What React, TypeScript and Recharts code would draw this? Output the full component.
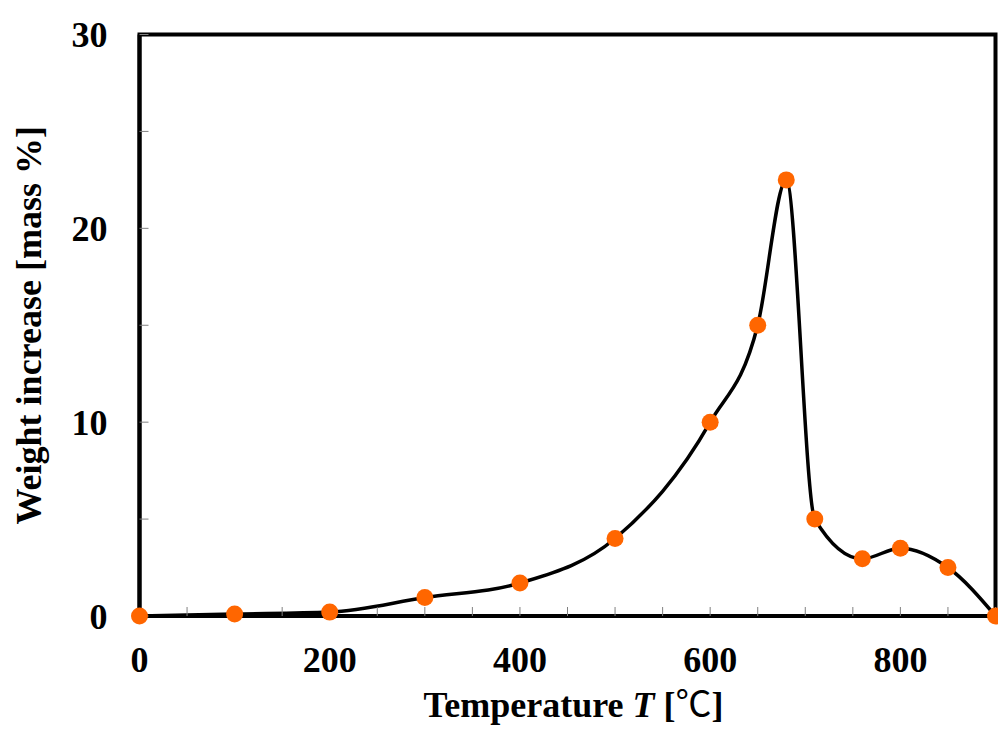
import React from 'react'
import { ComposedChart, Line, XAxis, YAxis, ReferenceArea } from 'recharts'

// temperature [°C] and weight increase [mass %]
const temperatures = [0, 100, 200, 300, 400, 500, 600, 650, 680, 710, 760, 800, 850, 900]
const weightIncrease = [0, 0.1, 0.2, 0.95, 1.7, 4.0, 10.0, 15.0, 22.5, 5.0, 2.95, 3.5, 2.5, 0]

const xTicks = [0, 50, 100, 150, 200, 250, 300, 350, 400, 450, 500, 550, 600, 650, 700, 750, 800, 850, 900]
const xLabels = [0, 200, 400, 600, 800]
const yTicks = [0, 5, 10, 15, 20, 25, 30]
const yLabels = [0, 10, 20, 30]

const data = temperatures.map((t, i) => ({ t, w: weightIncrease[i] }))

const font = 'Liberation Serif, Times New Roman, serif'
const tickStyle = { fontSize: 36, fontWeight: 700, fill: '#000', fontFamily: font }
const tickLine = { stroke: '#808080', strokeWidth: 1 }
const frame = { stroke: '#000', strokeWidth: 4 }

function XTitle(props: any) {
  const { x, y, width } = props.viewBox
  return (
    <text
      x={x + width / 2 + 6}
      y={y + 101}
      textAnchor="middle"
      fontFamily={font}
      fontSize={36}
      fontWeight={700}
      fill="#000"
    >
      Temperature <tspan fontStyle="italic">T</tspan> [<tspan fontWeight={400} fontFamily="Noto Sans CJK JP, DejaVu Sans, sans-serif">℃</tspan>]
    </text>
  )
}

function YTitle(props: any) {
  const { y, height } = props.viewBox
  const cx = 29
  const cy = y + height / 2
  return (
    <text
      x={cx}
      y={cy}
      transform={`rotate(-90, ${cx}, ${cy})`}
      textAnchor="middle"
      dominantBaseline="central"
      fontFamily={font}
      fontSize={36}
      fontWeight={700}
      fill="#000"
    >
      Weight increase [mass %]
    </text>
  )
}

export default function App() {
  return (
    <div style={{ position: 'absolute', left: 0, top: 0, background: '#fff' }}>
      <ComposedChart width={998} height={729} data={data} margin={{ top: 34.5, right: 2.5, bottom: 0, left: 0 }}>
        <XAxis
          dataKey="t"
          type="number"
          domain={[0, 900]}
          ticks={xTicks}
          interval={0}
          tickFormatter={(v: number) => (xLabels.includes(v) ? String(v) : '')}
          tick={tickStyle}
          tickLine={tickLine}
          tickSize={-9}
          tickMargin={39}
          axisLine={frame}
          height={113}
          label={{ content: XTitle }}
        />
        <YAxis
          type="number"
          domain={[0, 30]}
          ticks={yTicks}
          interval={0}
          tickFormatter={(v: number) => (yLabels.includes(v) ? String(v) : '')}
          tick={tickStyle}
          tickLine={tickLine}
          tickSize={-9}
          tickMargin={41}
          axisLine={frame}
          width={139.5}
          label={{ content: YTitle }}
        />
        <ReferenceArea x1={0} x2={900} y1={0} y2={30} fill="none" stroke="#000" strokeWidth={4} ifOverflow="visible" />
        <Line
          dataKey="w"
          type="monotone"
          stroke="#000"
          strokeWidth={3.5}
          dot={{ r: 8.5, fill: '#FF6600', stroke: 'none' }}
          isAnimationActive={false}
        />
      </ComposedChart>
    </div>
  )
}
